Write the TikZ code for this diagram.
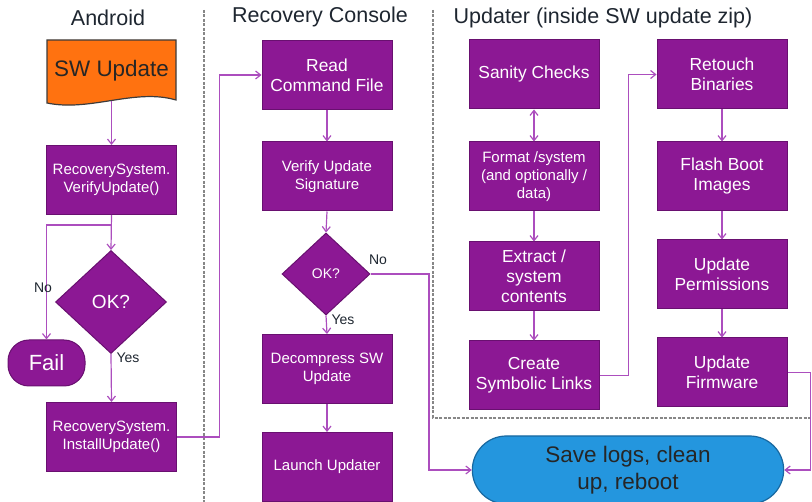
\documentclass[tikz,border=0pt]{standalone}
\usepackage{fontspec}
\setmainfont{Liberation Sans}
\usetikzlibrary{arrows.meta}
\usetikzlibrary{shapes.geometric}
\usetikzlibrary{shapes.misc}

\definecolor{boxpurple}{RGB}{140,24,148}
\definecolor{boxedge}{RGB}{105,16,112}
\definecolor{linepurple}{RGB}{172,78,190}
\definecolor{docorange}{RGB}{255,114,16}
\definecolor{docedge}{RGB}{60,60,60}
\definecolor{termblue}{RGB}{36,150,222}
\definecolor{termedge}{RGB}{24,104,160}
\definecolor{titlegray}{RGB}{30,38,48}
\definecolor{sepgray}{RGB}{135,135,135}

\tikzset{
  stepbox/.style={rectangle, fill=boxpurple, draw=boxedge, line width=1pt,
    minimum width=130pt, minimum height=69pt, text=white, align=center, inner sep=2pt},
  bigtext/.style={font=\fontsize{17.4}{20}\selectfont},
  smalltext/.style={font=\fontsize{15}{18}\selectfont},
  decision/.style={diamond, fill=boxpurple, draw=boxedge, line width=1pt,
    inner sep=0pt, text=white},
  flowline/.style={draw=linepurple, line width=1.2pt,
    -{Straight Barb[length=5pt,width=8pt]}},
  lane/.style={draw=sepgray, line width=2pt, dash pattern=on 3pt off 1.5pt},
  lanetitle/.style={font=\fontsize{21.5}{24}\selectfont, text=titlegray},
  branchlabel/.style={font=\fontsize{14}{16}\selectfont, text=titlegray},
}

\begin{document}
\begin{tikzpicture}[x=1pt, y=-1pt]
\useasboundingbox (0,0) rectangle (812,502);
%%% lanes
% separators
\draw[lane] (204,10) -- (204,502);
\draw[lane] (433,10) -- (433,418) -- (812,418);
% titles
\node[lanetitle] (tandroid) at (108,18) {Android};
\node[lanetitle] (trecovery) at (320,17) {Recovery Console};
\node[lanetitle] (tupdater) at (603,18) {Updater (inside SW update zip)};
%%% Android lane
% document shape
\filldraw[fill=docorange, draw=docedge, line width=1.2pt]
  (47,40) -- (176,40) -- (176,100)
  .. controls (135,88) and (90,112) .. (47,103) -- cycle;
\node[font=\fontsize{22.4}{26}\selectfont, text=black!85, minimum width=129pt,
  minimum height=61pt, inner sep=0pt] (swupd) at (111.5,70.5) {SW Update};
% steps
\node[stepbox, smalltext] (verify) at (111.5,180) {RecoverySystem.\\VerifyUpdate()};
\node[decision, minimum width=111pt, minimum height=103pt,
  font=\fontsize{19}{22}\selectfont] (okandroid) at (111,302) {OK?};
\node[rectangle, rounded corners=21pt, fill=boxpurple, draw=boxedge, line width=1pt,
  minimum width=77pt, minimum height=46pt, text=white,
  font=\fontsize{22}{26}\selectfont] (fail) at (46.5,363) {Fail};
\node[stepbox, smalltext] (install) at (111.5,437) {RecoverySystem.\\InstallUpdate()};
% edges
\coordinate (split) at (111.5,225);
\draw[flowline] (swupd.south) -- (verify.north);
\draw[flowline] (verify.south) -- (okandroid.north);
\draw[flowline] (split) -| (fail.north);
\draw[flowline] (okandroid.south) -- (install.north);
% labels
\node[branchlabel] (noandroid) at (43,288) {No};
\node[branchlabel] (yesandroid) at (128,358) {Yes};
%%% Recovery lane
% steps
\node[stepbox, bigtext] (readcmd) at (327,75) {Read\\Command File};
\node[stepbox, smalltext] (verifysig) at (327,176.5) {Verify Update\\Signature};
\node[decision, minimum width=88pt, minimum height=82pt,
  font=\fontsize{14}{16}\selectfont] (okrecovery) at (326,274) {OK?};
\node[stepbox, smalltext] (decomp) at (327,369) {Decompress SW\\Update};
\node[stepbox, smalltext] (launch) at (327,467) {Launch Updater};
% edges
\draw[flowline] (install.east) -- ++(42.5,0) |- (readcmd.west);
\draw[flowline] (readcmd.south) -- (verifysig.north);
\draw[flowline] (verifysig.south) -- (okrecovery.north);
\draw[flowline] (okrecovery.south) -- (decomp.north);
\draw[flowline] (decomp.south) -- (launch.north);
% labels
\node[branchlabel] (norecovery) at (378,260) {No};
\node[branchlabel] (yesrecovery) at (343,320) {Yes};
%%% Updater lane
% steps
\node[stepbox, bigtext] (sanity) at (534,74.5) {Sanity Checks};
\node[stepbox, smalltext] (format) at (534,176.5) {Format /system\\(and optionally /\\data)};
\node[stepbox, bigtext] (extract) at (534,276.5) {Extract /\\system\\contents};
\node[stepbox, bigtext] (symlinks) at (534,375.5) {Create\\Symbolic Links};
\node[stepbox, bigtext] (retouch) at (722,74.5) {Retouch\\Binaries};
\node[stepbox, bigtext] (flash) at (722,176.5) {Flash Boot\\Images};
\node[stepbox, bigtext] (perms) at (722,274.5) {Update\\Permissions};
\node[stepbox, bigtext] (firmware) at (722,372.5) {Update\\Firmware};
% terminator
\node[rounded rectangle, fill=termblue, draw=termedge, line width=1.2pt,
  minimum width=318pt, minimum height=68pt, align=center, text=black!85,
  font=\fontsize{22.5}{27}\selectfont] (savelogs) at (628,470) {Save logs, clean\\up, reboot};
% edges
\draw[flowline, {Straight Barb[length=5pt,width=8pt]}-{Straight Barb[length=5pt,width=8pt]}]
  (sanity.south) -- (format.north);
\draw[flowline] (format.south) -- (extract.north);
\draw[flowline] (extract.south) -- (symlinks.north);
\draw[flowline] (symlinks.east) -- ++(29,0) |- (retouch.west);
\draw[flowline] (retouch.south) -- (flash.north);
\draw[flowline] (flash.south) -- (perms.north);
\draw[flowline] (perms.south) -- (firmware.north);
\draw[flowline] (firmware.east) -- ++(23,0) |- (savelogs.east);
\draw[flowline] (okrecovery.east) -- (429,274) |- (savelogs.west);
\end{tikzpicture}
\end{document}
